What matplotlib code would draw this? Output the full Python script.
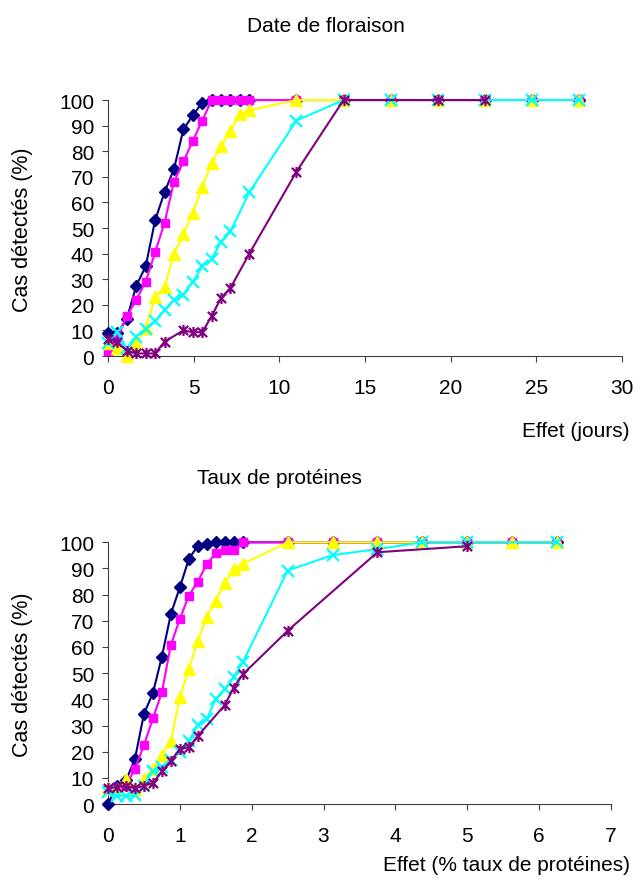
import numpy as np
import matplotlib
matplotlib.use("Agg")
import matplotlib.pyplot as plt
from matplotlib.path import Path

plt.rcParams['font.family'] = ['Liberation Sans Narrow', 'Liberation Sans', 'DejaVu Sans']

# effect levels (x values)
effet_jours = [0, 0.55, 1.1, 1.65, 2.2, 2.75, 3.3, 3.85, 4.4, 4.95, 5.5, 6.05, 6.6, 7.15,
               7.7, 8.25, 11, 13.75, 16.5, 19.25, 22, 24.75, 27.5]
effet_prot = [0, 0.125, 0.25, 0.375, 0.5, 0.625, 0.75, 0.875, 1.0, 1.125, 1.25, 1.375, 1.5,
              1.625, 1.75, 1.875, 2.5, 3.125, 3.75, 4.375, 5.0, 5.625, 6.25]

# % cases detected, flowering date
flo_s1 = [9, 9, 14.5, 27.5, 35, 53, 64, 73, 88.5, 94, 99, 100, 100, 100, 100, 100,
          100, 100, 100, 100, 100, 100, 100]
flo_s2 = [2, 7, 15.5, 22, 29, 40.5, 52, 68, 76, 84, 92, 100, 100, 100, 100, 100,
          100, 100, 100, 100, 100, 100, 100]
flo_s3 = [5, 3, 0, 5, 11, 23, 27, 40, 47.5, 56, 66, 75.5, 82, 88, 94.5, 96,
          100, 100, 100, 100, 100, 100, 100]
flo_s4 = [5, 9.3, 3, 7.5, 10.5, 13.5, 18, 22, 24, 29, 35, 38, 44.7, 48.7, None, 64,
          92, 100, 100, 100, 100, 100, 100]
flo_s5 = [6.7, 5.4, 2, 1, 1, 1, 5.6, None, 10, 9.3, 9.3, 15.6, 22.7, 26.6, None, 40,
          72, 100, None, 100, 100, None, None]

# % cases detected, protein content
prot_s1 = [0, 7, 9, 17.2, 34.4, 42.4, 56.3, 72.6, 82.8, 93.6, 98.7, 99.5, 100, 100, 100, 100,
           100, 100, 100, 100, 100, 100, 100]
prot_s2 = [5.7, 6, 7, 13.5, 22.5, 32.7, 42.7, 60.8, 70.7, 79.6, 85, 91.7, 95.8, 97, 97, 100,
           100, 100, 100, 100, 100, 100, 100]
prot_s3 = [6, 6, 9.5, 5.7, 9.6, 13.4, 18.7, 24.2, 40.8, 51.6, 62.4, 71.6, 77.7, 84.3, 89.8, 91.7,
           100, 100, 100, 100, 100, 100, 100]
prot_s4 = [4.5, 3.2, 3, 3.4, 7, 12.7, 14, 17, 20, 24, 30.2, 32.5, 40.1, 43.9, 48.4, 54.1,
           89.2, 95.1, 97.4, 100, 100, None, 100]
prot_s5 = [6, 6.5, 7, 6, 7, 8, 12.5, 16.5, 21, 21.7, 26, None, None, 37.8, 44.5, 49.5,
           66.2, None, 96.2, None, 98.5, None, None]

# star marker: X with a vertical bar
star = Path([(-1, -1), (1, 1), (-1, 1), (1, -1), (0, -1.2), (0, 1.2)],
            [Path.MOVETO, Path.LINETO, Path.MOVETO, Path.LINETO, Path.MOVETO, Path.LINETO])

styles = [
    dict(color='#000080', marker='D', ms=6.5),
    dict(color='#FF00FF', marker='s', ms=6),
    dict(color='#FFFF00', marker='^', ms=8.5),
    dict(color='#00FFFF', marker='x', ms=8, mew=1.6),
    dict(color='#800080', marker=star, ms=8, mew=1.6),
]


def draw_series(ax, x, series):
    for i, (vals, st) in enumerate(zip(series, styles)):
        xs = [a for a, b in zip(x, vals) if b is not None]
        ys = [b for b in vals if b is not None]
        ax.plot(xs, ys, lw=1.5, clip_on=False, zorder=3 + i, **st)


def style_axes(ax, xmax, xstep):
    ax.set_xlim(0, xmax)
    ax.set_ylim(0, 100)
    ax.set_xticks(np.arange(0, xmax + 0.01, xstep))
    ax.set_yticks(np.arange(0, 101, 10))
    for s in ['top', 'right']:
        ax.spines[s].set_visible(False)
    for s in ['left', 'bottom']:
        ax.spines[s].set_color('#404040')
    ax.tick_params(axis='both', direction='out', length=4, color='#404040', labelsize=15)
    ax.tick_params(axis='x', pad=12)
    ax.tick_params(axis='y', pad=6)


fig = plt.figure(figsize=(6.33, 8.87), dpi=100)

ax1 = fig.add_axes([0.1706, 0.5975, 0.812, 0.2886])
draw_series(ax1, effet_jours, [flo_s1, flo_s2, flo_s3, flo_s4, flo_s5])
style_axes(ax1, 30, 5)

ax2 = fig.add_axes([0.1706, 0.0924, 0.7946, 0.2951])
draw_series(ax2, effet_prot, [prot_s1, prot_s2, prot_s3, prot_s4, prot_s5])
style_axes(ax2, 7, 1)

fig.text(0.515, 0.9696, 'Date de floraison', ha='center', va='center', fontsize=15)
fig.text(0.441, 0.461, 'Taux de protéines', ha='center', va='center', fontsize=15)
fig.text(0.0348, 0.7407, 'Cas détectés (%)', rotation=90, ha='center', va='center', fontsize=15.5)
fig.text(0.0348, 0.239, 'Cas détectés (%)', rotation=90, ha='center', va='center', fontsize=15.5)
fig.text(0.995, 0.513, 'Effet (jours)', ha='right', va='center', fontsize=15)
fig.text(0.995, 0.0248, 'Effet (% taux de protéines)', ha='right', va='center', fontsize=15)

fig.savefig('out.png', dpi=100)
